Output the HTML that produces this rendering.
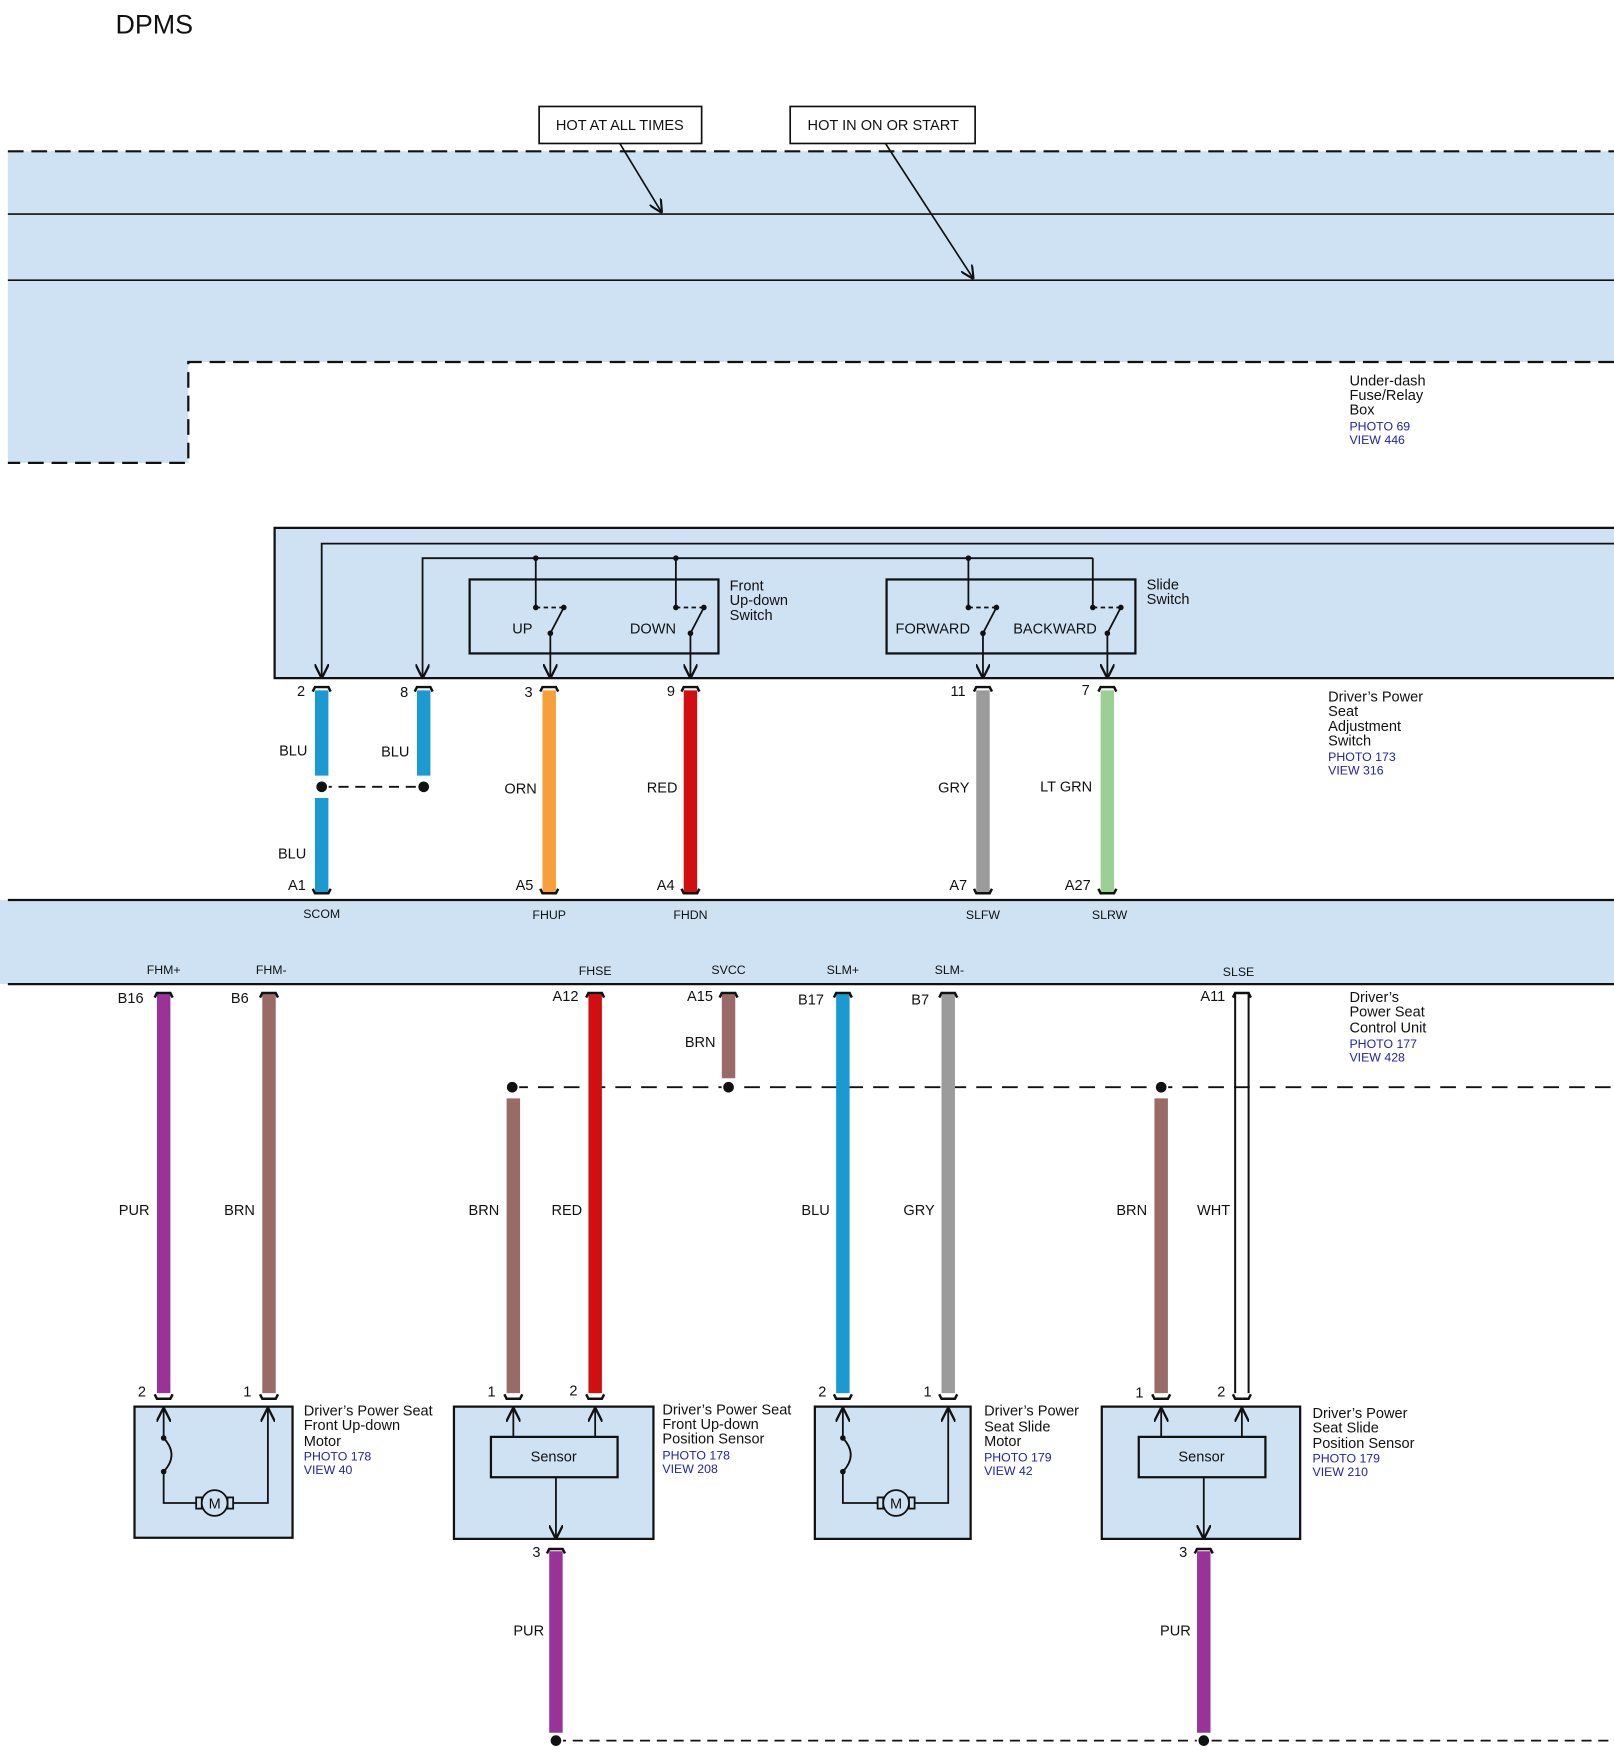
<!DOCTYPE html>
<html><head><meta charset="utf-8"><style>
html,body{margin:0;padding:0;background:#fff}
svg{display:block}
text{font-family:"Liberation Sans",sans-serif;font-size:13px;fill:#111}
.b{fill:#2222aa}
text.s{font-size:11px}
</style></head><body>
<svg width="1614" height="1758" viewBox="0 0 1440 1568.5" xmlns="http://www.w3.org/2000/svg">
<defs>
<marker id="ar" viewBox="0 0 10 10" refX="9" refY="5" markerWidth="8" markerHeight="8" orient="auto"><path d="M0 0 L10 5 L0 10" fill="none" stroke="#111" stroke-width="1.6"/></marker>
</defs>
<text x="103" y="30" style="font-size:24px">DPMS</text>

<path d="M7 135 H1440 V323 H168 V413 H7 Z" fill="#cfe2f3"/>
<g stroke="#111" stroke-width="2" fill="none">
<path d="M7 135 H1440" stroke-dasharray="14,7"/>
<path d="M1440 323 H168 V413 H7" stroke-dasharray="14,7"/>
<path d="M7 191 H1440 M7 250 H1440" stroke-width="1.5"/>
<rect x="481" y="95" width="145" height="33" fill="#fff" stroke-width="1.5"/>
<rect x="705" y="95" width="165" height="33" fill="#fff" stroke-width="1.5"/>
<path d="M553 128 L590 189" stroke-width="1.5" marker-end="url(#ar)"/>
<path d="M790 128 L868 248" stroke-width="1.5" marker-end="url(#ar)"/>
</g>
<text x="553" y="116" text-anchor="middle">HOT AT ALL TIMES</text>
<text x="788" y="116" text-anchor="middle">HOT IN ON OR START</text>
<text x="1204" y="344">Under-dash</text><text x="1204" y="357">Fuse/Relay</text><text x="1204" y="370">Box</text>
<text x="1204" y="384" class="b s">PHOTO 69</text><text x="1204" y="396" class="b s">VIEW 446</text>

<path d="M1440 471 H245 V605 H1440" fill="#cfe2f3" stroke="#111" stroke-width="2"/>
<g stroke="#111" stroke-width="1.6" fill="none">
<rect x="419" y="517" width="222" height="66" stroke-width="2"/>
<rect x="791" y="517" width="222" height="66" stroke-width="2"/>
<path d="M1440 485 H287 V604" marker-end="url(#ar)"/>
<path d="M975 498 H377 V604" marker-end="url(#ar)"/>
<path d="M478 498 V542 M603 498 V542 M864 498 V542 M975 498 V542"/>
<path d="M478 542 H503 M603 542 H628 M864 542 H889 M975 542 H1000" stroke-dasharray="4,3"/>
<path d="M503 542 L491 565 V604" marker-end="url(#ar)"/>
<path d="M628 542 L616 565 V604" marker-end="url(#ar)"/>
<path d="M889 542 L877 565 V604" marker-end="url(#ar)"/>
<path d="M1000 542 L988 565 V604" marker-end="url(#ar)"/>
</g>
<g fill="#111">
<circle cx="478" cy="498" r="2.5"/><circle cx="603" cy="498" r="2.5"/><circle cx="864" cy="498" r="2.5"/>
<circle cx="478" cy="542" r="2.5"/><circle cx="503" cy="542" r="2.5"/><circle cx="491" cy="565" r="2.5"/>
<circle cx="603" cy="542" r="2.5"/><circle cx="628" cy="542" r="2.5"/><circle cx="616" cy="565" r="2.5"/>
<circle cx="864" cy="542" r="2.5"/><circle cx="889" cy="542" r="2.5"/><circle cx="877" cy="565" r="2.5"/>
<circle cx="975" cy="542" r="2.5"/><circle cx="1000" cy="542" r="2.5"/><circle cx="988" cy="565" r="2.5"/>
</g>
<text x="457" y="565">UP</text><text x="562" y="565">DOWN</text>
<text x="799" y="565">FORWARD</text><text x="904" y="565">BACKWARD</text>
<text x="651" y="527">Front</text><text x="651" y="540">Up-down</text><text x="651" y="553">Switch</text>
<text x="1023" y="526">Slide</text><text x="1023" y="539">Switch</text>
<text x="1185" y="626">Driver’s Power</text><text x="1185" y="639">Seat</text><text x="1185" y="652">Adjustment</text><text x="1185" y="665">Switch</text>
<text x="1185" y="679" class="b s">PHOTO 173</text><text x="1185" y="691" class="b s">VIEW 316</text>

<g stroke-width="12">
<path d="M287 616 V692 M287 712 V796 M378 616 V692" stroke="#1a9ad0"/>
<path d="M490 616 V796" stroke="#f6a03c"/>
<path d="M616 616 V796" stroke="#d20f10"/>
<path d="M877 616 V796" stroke="#9b9b9b"/>
<path d="M988 616 V796" stroke="#9ccf95"/>
</g>
<g stroke="#111" stroke-width="2.2" fill="none">
<path d="M279 617 L281 613 H293 L295 617 M370 617 L372 613 H384 L386 617 M482 617 L484 613 H496 L498 617 M608 617 L610 613 H622 L624 617 M869 617 L871 613 H883 L885 617 M980 617 L982 613 H994 L996 617"/>
<path d="M279 793 L281 797 H293 L295 793 M482 793 L484 797 H496 L498 793 M608 793 L610 797 H622 L624 793 M869 793 L871 797 H883 L885 793 M980 793 L982 797 H994 L996 793"/>
<path d="M287 702 H378" stroke-dasharray="9,6" stroke-width="1.6"/>
</g>
<circle cx="287" cy="702" r="5.5" fill="#111" stroke="#fff" stroke-width="1.5"/>
<circle cx="378" cy="702" r="5.5" fill="#111" stroke="#fff" stroke-width="1.5"/>
<text x="265" y="621">2</text><text x="357" y="622">8</text><text x="468" y="622">3</text><text x="595" y="621">9</text><text x="848" y="621">11</text><text x="965" y="620">7</text>
<text x="249" y="674">BLU</text><text x="340" y="675">BLU</text><text x="450" y="708">ORN</text><text x="577" y="707">RED</text><text x="837" y="707">GRY</text><text x="928" y="706">LT GRN</text><text x="248" y="766">BLU</text>
<text x="257" y="794">A1</text><text x="460" y="794">A5</text><text x="586" y="794">A4</text><text x="847" y="794">A7</text><text x="950" y="794">A27</text>

<rect x="0" y="803" width="1440" height="75" fill="#cfe2f3"/>
<path d="M7 803 H1440 M7 878 H1440" stroke="#111" stroke-width="2"/>
<g text-anchor="middle">
<text class="s" x="287" y="819">SCOM</text><text class="s" x="490" y="820">FHUP</text><text class="s" x="616" y="820">FHDN</text><text class="s" x="877" y="820">SLFW</text><text class="s" x="990" y="820">SLRW</text>
<text class="s" x="146" y="869">FHM+</text><text class="s" x="242" y="869">FHM-</text><text class="s" x="531" y="870">FHSE</text><text class="s" x="650" y="869">SVCC</text><text class="s" x="752" y="869">SLM+</text><text class="s" x="847" y="869">SLM-</text><text class="s" x="1105" y="871">SLSE</text>
</g>
<text x="1204" y="894">Driver’s</text><text x="1204" y="907">Power Seat</text><text x="1204" y="921">Control Unit</text>
<text x="1204" y="935" class="b s">PHOTO 177</text><text x="1204" y="947" class="b s">VIEW 428</text>

<path d="M457 970 H1440" stroke="#111" stroke-width="1.6" stroke-dasharray="14,9"/>
<g stroke-width="12">
<path d="M146 887 V1243" stroke="#993399"/>
<path d="M240 887 V1243 M650 887 V962 M458 980 V1243 M1036 980 V1243" stroke="#9a6a66"/>
<path d="M531 887 V1243" stroke="#d20f10"/>
<path d="M752 887 V1243" stroke="#1a9ad0"/>
<path d="M846 887 V1243" stroke="#9b9b9b"/>
<path d="M496 1384 V1546 M1074 1384 V1546" stroke="#993399"/>
</g>
<path d="M1102 887 V1243 M1114 887 V1243" stroke="#111" stroke-width="1.8"/>
<circle cx="457" cy="970" r="5.5" fill="#111" stroke="#fff" stroke-width="1.5"/>
<circle cx="650" cy="970" r="5.5" fill="#111" stroke="#fff" stroke-width="1.5"/>
<circle cx="1036" cy="970" r="5.5" fill="#111" stroke="#fff" stroke-width="1.5"/>
<g stroke="#111" stroke-width="2.2" fill="none">
<path d="M138 890 L140 886 H152 L154 890 M232 890 L234 886 H246 L248 890 M523 890 L525 886 H537 L539 890 M642 890 L644 886 H656 L658 890 M744 890 L746 886 H758 L760 890 M838 890 L840 886 H852 L854 890 M1100 890 L1102 886 H1114 L1116 890"/>
<path d="M138 1244 L140 1248 H152 L154 1244 M232 1244 L234 1248 H246 L248 1244 M450 1244 L452 1248 H464 L466 1244 M523 1244 L525 1248 H537 L539 1244 M744 1244 L746 1248 H758 L760 1244 M838 1244 L840 1248 H852 L854 1244 M1028 1244 L1030 1248 H1042 L1044 1244 M1100 1244 L1102 1248 H1114 L1116 1244"/>
<path d="M488 1386 L490 1382 H502 L504 1386 M1066 1386 L1068 1382 H1080 L1082 1386"/>
<path d="M496 1553 H1440" stroke-width="1.6" stroke-dasharray="9,6"/>
</g>
<circle cx="496" cy="1553" r="5.5" fill="#111" stroke="#fff" stroke-width="1.5"/>
<circle cx="1074" cy="1553" r="5.5" fill="#111" stroke="#fff" stroke-width="1.5"/>
<text x="105" y="895">B16</text><text x="206" y="895">B6</text><text x="493" y="893">A12</text><text x="613" y="893">A15</text><text x="712" y="896">B17</text><text x="813" y="896">B7</text><text x="1071" y="893">A11</text>
<text x="611" y="934">BRN</text>
<text x="106" y="1084">PUR</text><text x="200" y="1084">BRN</text><text x="418" y="1084">BRN</text><text x="492" y="1084">RED</text><text x="715" y="1084">BLU</text><text x="806" y="1084">GRY</text><text x="996" y="1084">BRN</text><text x="1068" y="1084">WHT</text>
<text x="123" y="1246">2</text><text x="217" y="1246">1</text><text x="435" y="1246">1</text><text x="508" y="1245">2</text><text x="730" y="1246">2</text><text x="824" y="1246">1</text><text x="1013" y="1247">1</text><text x="1086" y="1246">2</text>
<text x="475" y="1389">3</text><text x="1052" y="1389">3</text>
<text x="458" y="1459">PUR</text><text x="1035" y="1459">PUR</text>

<g fill="#cfe2f3" stroke="#111" stroke-width="2">
<rect x="120" y="1255" width="141" height="117"/>
<rect x="405" y="1255" width="178" height="118"/>
<rect x="727" y="1255" width="139" height="118"/>
<rect x="983" y="1255" width="177" height="118"/>
<rect x="438" y="1282" width="113" height="36"/>
<rect x="1016" y="1282" width="113" height="36"/>
</g>
<g stroke="#111" stroke-width="1.6" fill="none">
<path d="M146 1283 V1257" marker-end="url(#ar)"/>
<path d="M146 1283 Q160 1298 146 1313 V1341 H175"/>
<path d="M208 1341 H239 V1257" marker-end="url(#ar)"/>
<rect x="175" y="1336" width="5" height="10"/><rect x="203" y="1336" width="5" height="10"/>
<circle cx="191.5" cy="1341" r="11.5" fill="#cfe2f3"/>
<path d="M752 1283 V1257" marker-end="url(#ar)"/>
<path d="M752 1283 Q766 1298 752 1313 V1341 H783"/>
<path d="M816 1341 H846 V1257" marker-end="url(#ar)"/>
<rect x="783" y="1336" width="5" height="10"/><rect x="811" y="1336" width="5" height="10"/>
<circle cx="799.5" cy="1341" r="11.5" fill="#cfe2f3"/>
<path d="M458 1282 V1257" marker-end="url(#ar)"/>
<path d="M531 1282 V1257" marker-end="url(#ar)"/>
<path d="M1036 1282 V1257" marker-end="url(#ar)"/>
<path d="M1108 1282 V1257" marker-end="url(#ar)"/>
<path d="M496 1318 V1372" marker-end="url(#ar)"/>
<path d="M1074 1318 V1372" marker-end="url(#ar)"/>
</g>
<g fill="#111"><circle cx="146" cy="1283" r="2.5"/><circle cx="146" cy="1313" r="2.5"/><circle cx="752" cy="1283" r="2.5"/><circle cx="752" cy="1313" r="2.5"/></g>
<text x="191.5" y="1346" text-anchor="middle">M</text><text x="799.5" y="1346" text-anchor="middle">M</text>
<text x="494" y="1304" text-anchor="middle">Sensor</text><text x="1072" y="1304" text-anchor="middle">Sensor</text>

<text x="271" y="1263">Driver’s Power Seat</text><text x="271" y="1276">Front Up-down</text><text x="271" y="1290">Motor</text>
<text x="271" y="1303" class="b s">PHOTO 178</text><text x="271" y="1315" class="b s">VIEW 40</text>
<text x="591" y="1262">Driver’s Power Seat</text><text x="591" y="1275">Front Up-down</text><text x="591" y="1288">Position Sensor</text>
<text x="591" y="1302" class="b s">PHOTO 178</text><text x="591" y="1314" class="b s">VIEW 208</text>
<text x="878" y="1263">Driver’s Power</text><text x="878" y="1277">Seat Slide</text><text x="878" y="1290">Motor</text>
<text x="878" y="1304" class="b s">PHOTO 179</text><text x="878" y="1316" class="b s">VIEW 42</text>
<text x="1171" y="1265">Driver’s Power</text><text x="1171" y="1278">Seat Slide</text><text x="1171" y="1292">Position Sensor</text>
<text x="1171" y="1305" class="b s">PHOTO 179</text><text x="1171" y="1317" class="b s">VIEW 210</text>
</svg>
</body></html>
